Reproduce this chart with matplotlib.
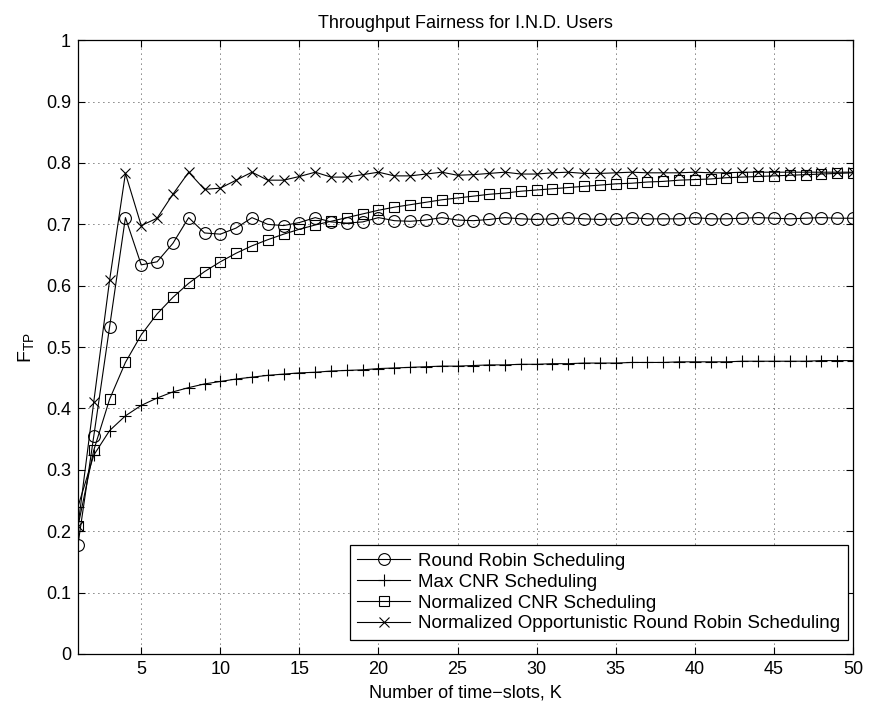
import matplotlib
matplotlib.use("Agg")
import matplotlib.pyplot as plt
import numpy as np

plt.rcParams['font.family'] = ['Liberation Sans', 'DejaVu Sans']
plt.rcParams['mathtext.fontset'] = 'custom'
plt.rcParams['mathtext.rm'] = 'Liberation Sans'
plt.rcParams['mathtext.it'] = 'Liberation Sans:italic'

K = np.arange(1, 51)

round_robin = [0.178, 0.355, 0.533, 0.711, 0.634, 0.639, 0.669, 0.711, 0.686, 0.684,
               0.694, 0.711, 0.700, 0.698, 0.703, 0.711, 0.704, 0.702, 0.704, 0.711,
               0.706, 0.705, 0.707, 0.711, 0.707, 0.706, 0.708, 0.711, 0.709, 0.708,
               0.709, 0.711, 0.709, 0.708, 0.709, 0.711, 0.709, 0.709, 0.709, 0.711,
               0.709, 0.709, 0.710, 0.711, 0.710, 0.709, 0.710, 0.711, 0.710, 0.710]

max_cnr = [0.240, 0.324, 0.364, 0.388, 0.405, 0.417, 0.427, 0.434, 0.440, 0.444,
           0.448, 0.451, 0.454, 0.456, 0.458, 0.459, 0.461, 0.462, 0.463, 0.465,
           0.466, 0.467, 0.468, 0.469, 0.469, 0.470, 0.471, 0.471, 0.472, 0.472,
           0.473, 0.473, 0.474, 0.474, 0.474, 0.475, 0.475, 0.475, 0.476, 0.476,
           0.476, 0.476, 0.477, 0.477, 0.477, 0.477, 0.477, 0.478, 0.478, 0.478]

norm_cnr = [0.208, 0.332, 0.415, 0.475, 0.520, 0.554, 0.581, 0.604, 0.623, 0.639,
            0.653, 0.665, 0.675, 0.684, 0.692, 0.699, 0.705, 0.711, 0.717, 0.723,
            0.728, 0.732, 0.736, 0.740, 0.743, 0.746, 0.749, 0.751, 0.754, 0.756,
            0.758, 0.760, 0.762, 0.764, 0.766, 0.767, 0.769, 0.770, 0.772, 0.773,
            0.774, 0.776, 0.777, 0.778, 0.779, 0.780, 0.781, 0.782, 0.783, 0.784]

norm_orr = [0.208, 0.411, 0.609, 0.783, 0.698, 0.710, 0.749, 0.785, 0.757, 0.759,
            0.772, 0.785, 0.772, 0.772, 0.778, 0.785, 0.777, 0.777, 0.781, 0.785,
            0.779, 0.779, 0.782, 0.785, 0.780, 0.781, 0.783, 0.785, 0.782, 0.782,
            0.784, 0.785, 0.783, 0.783, 0.784, 0.785, 0.784, 0.784, 0.784, 0.785,
            0.784, 0.784, 0.785, 0.785, 0.785, 0.785, 0.785, 0.785, 0.785, 0.785]

labels = ['Round Robin Scheduling', 'Max CNR Scheduling',
          'Normalized CNR Scheduling',
          'Normalized Opportunistic Round Robin Scheduling']

FS = 13

fig = plt.figure(figsize=(8.74, 7.06), dpi=100)
ax = fig.add_axes([0.0892, 0.0737, 0.976 - 0.0892, 0.943 - 0.0737])

common = dict(color='black', linewidth=0.8, markerfacecolor='none',
              markeredgecolor='black', markeredgewidth=0.8)
ax.plot(K, round_robin, marker='o', markersize=8.5, label=labels[0], **common)
ax.plot(K, max_cnr, marker='+', markersize=8, label=labels[1], **common)
ax.plot(K, norm_cnr, marker='s', markersize=7, label=labels[2], **common)
ax.plot(K, norm_orr, marker='x', markersize=6.5, label=labels[3], **common)

ax.set_xlim(1, 50)
ax.set_ylim(0, 1)
ax.set_xticks(np.arange(5, 51, 5))
ax.set_yticks(np.arange(0, 1.01, 0.1))
ax.set_yticklabels(['0', '0.1', '0.2', '0.3', '0.4', '0.5', '0.6', '0.7', '0.8', '0.9', '1'])

ax.grid(True, color='black', linestyle=(0, (1, 5)), linewidth=0.6)
ax.tick_params(direction='in', top=True, right=True, length=5, width=0.8,
               labelsize=FS, pad=5)
for s in ax.spines.values():
    s.set_linewidth(0.9)

ax.set_title('Throughput Fairness for I.N.D. Users', fontsize=FS, pad=9)
ax.set_xlabel('Number of time\u2212slots, K', fontsize=FS, labelpad=5)
ax.set_ylabel(r'F$_{\mathrm{TP}}$', fontsize=FS + 1, labelpad=7)

leg = ax.legend(loc='lower right', bbox_to_anchor=(0.9935, 0.0228),
                fontsize=13.5, handlelength=2.8, fancybox=False, framealpha=1,
                edgecolor='black', borderaxespad=0, labelspacing=0.2,
                handletextpad=0.45, borderpad=0.4)
leg.get_frame().set_linewidth(0.9)

fig.savefig('out.png', dpi=100)
